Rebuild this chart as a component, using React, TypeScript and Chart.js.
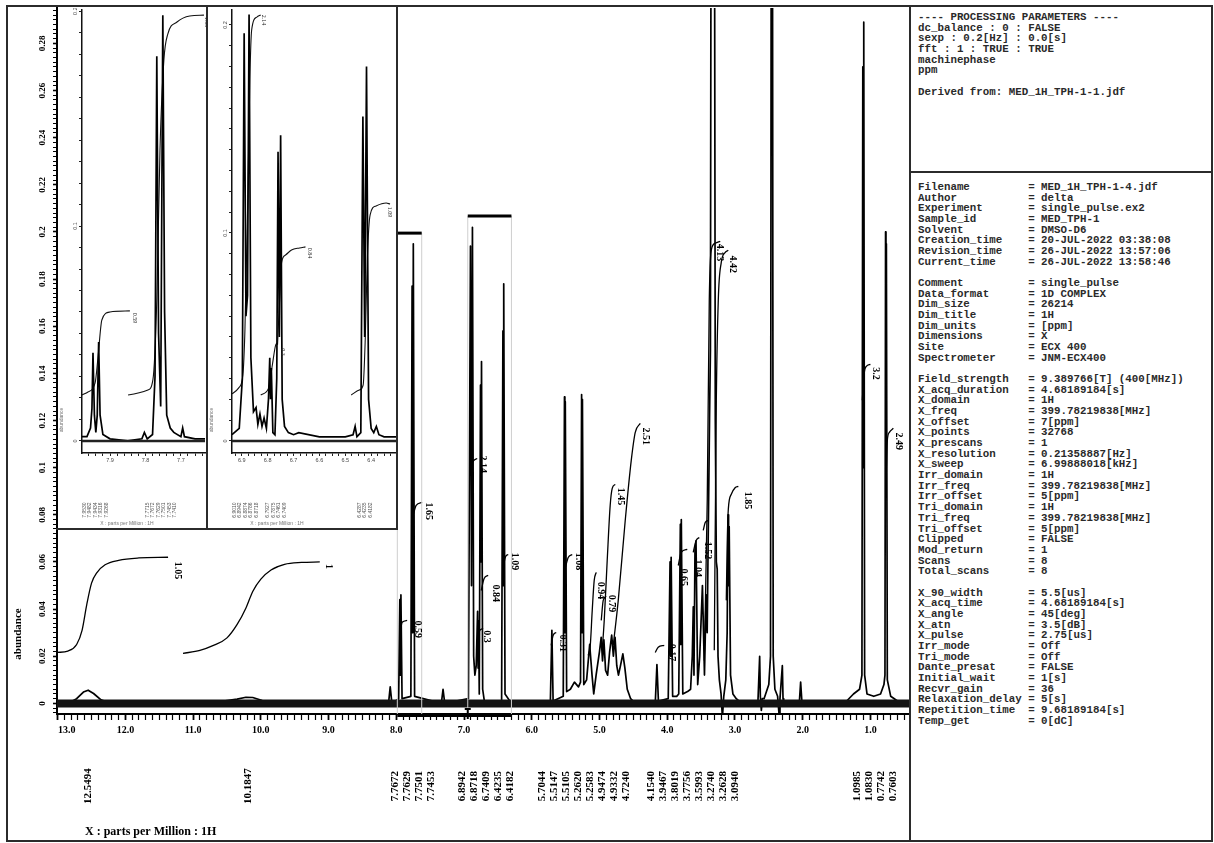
import React, { useEffect, useRef } from "react";
import { Chart, registerables } from "chart.js";

Chart.register(...registerables);

const SERIF = '"Liberation Serif", "Times New Roman", serif';
const MONO = '"Liberation Mono", "Courier New", monospace';
const SANS = '"Liberation Sans", Arial, sans-serif';

// ================= MAIN SPECTRUM =================
const ppmAxis = [0.43, 13.01];
const abundanceAxis = [-0.0045, 0.295];

const broadPpm = [13.01, 12.85, 12.72, 12.62, 12.55, 12.47, 12.36, 12.22, 10.85, 10.55, 10.35, 10.22, 10.12, 9.98, 9.78, 9.6, 8.2];
const broadAbundance = [0, 0, 0.002, 0.0048, 0.0056, 0.0042, 0.0015, 0, 0, 0.001, 0.0018, 0.0026, 0.0025, 0.0012, 0.0004, 0, 0];

const aromaticPpm = [8.2, 8.115, 8.09, 8.065, 7.965, 7.948, 7.94, 7.932, 7.915, 7.785, 7.767, 7.758, 7.749, 7.73, 7.335, 7.31, 7.285, 6.935, 6.905, 6.89, 6.876, 6.858, 6.84, 6.82, 6.8, 6.792, 6.785, 6.775, 6.757, 6.75, 6.742, 6.725, 6.7, 6.445, 6.426, 6.42, 6.414, 6.395, 6.3];
const aromaticAbundance = [0, 0, 0.007, 0, 0.002, 0.044, 0.012, 0.046, 0.002, 0.003, 0.177, 0.03, 0.195, 0.003, 0, 0.006, 0, 0.002, 0.194, 0.05, 0.202, 0.02, 0.012, 0.016, 0.039, 0.015, 0.035, 0.004, 0.135, 0.06, 0.145, 0.006, 0.001, 0.001, 0.158, 0.05, 0.178, 0.004, 0];

const midPpm = [6.3, 5.725, 5.703, 5.685, 5.535, 5.517, 5.511, 5.505, 5.485, 5.43, 5.37, 5.31, 5.28, 5.264, 5.258, 5.252, 5.232, 5.19, 5.145, 5.11, 5.085, 5.05, 5.0, 4.975, 4.955, 4.935, 4.91, 4.88, 4.85, 4.82, 4.795, 4.77, 4.745, 4.72, 4.69, 4.655, 4.625, 4.59, 4.54, 4.47];
const midAbundance = [0, 0.001, 0.031, 0.001, 0.003, 0.13, 0.03, 0.128, 0.005, 0.006, 0.009, 0.007, 0.009, 0.131, 0.03, 0.129, 0.008, 0.01, 0.025, 0.012, 0.004, 0.012, 0.022, 0.028, 0.018, 0.027, 0.014, 0.012, 0.022, 0.029, 0.02, 0.028, 0.016, 0.012, 0.016, 0.021, 0.015, 0.006, 0.002, 0];

const aliphaticPpm = [4.47, 4.175, 4.152, 4.13, 3.985, 3.958, 3.95, 3.942, 3.92, 3.86, 3.83, 3.806, 3.8, 3.792, 3.77, 3.7, 3.655, 3.63, 3.615, 3.605, 3.59, 3.575, 3.55, 3.52, 3.48, 3.45, 3.425, 3.41, 3.395, 3.375, 3.362, 3.35, 3.305, 3.29, 3.275, 3.262, 3.25, 3.23, 3.205, 3.185, 3.165, 3.135, 3.115, 3.102, 3.094, 3.085, 3.065, 3.03, 2.98, 2.9, 2.66, 2.635, 2.625, 2.61, 2.595, 2.57, 2.5, 2.475, 2.462, 2.448, 2.435, 2.41, 2.37, 2.345, 2.335, 2.3, 2.29, 2.28, 2.05, 2.03, 2.01, 1.5];
const aliphaticAbundance = [0, 0.001, 0.0165, 0.001, 0.002, 0.06, 0.02, 0.062, 0.003, 0.003, 0.004, 0.076, 0.025, 0.078, 0.004, 0.005, 0.006, 0.02, 0.041, 0.012, 0.065, 0.069, 0.008, 0.02, 0.05, 0.012, 0.046, 0.03, 0.07, 0.121, 0.15, 0.4, 0.4, 0.12, 0.06, 0.057, 0.02, 0.01, 0.004, -0.006, 0.003, 0.01, 0.03, 0.08, 0.05, 0.075, 0.012, 0.004, 0.002, 0, 0.001, 0.02, 0.003, -0.003, 0.002, 0.002, 0.008, 0.02, 0.4, 0.4, 0.02, 0.006, 0.003, -0.006, 0.002, 0.016, 0.002, 0.001, 0, 0.009, 0, 0];

const methylPpm = [1.5, 1.35, 1.25, 1.16, 1.125, 1.112, 1.105, 1.098, 1.085, 1.05, 0.95, 0.85, 0.8, 0.785, 0.776, 0.77, 0.764, 0.75, 0.7, 0.6, 0.43];
const methylAbundance = [0, 0.001, 0.004, 0.006, 0.012, 0.27, 0.1, 0.289, 0.012, 0.004, 0.003, 0.004, 0.008, 0.012, 0.2, 0.1, 0.195, 0.01, 0.003, 0.001, 0];

const baselinePpm = [13.01, 0.43];
const baselineAbundance = [0, 0];

// integral curves (main)
const mainIntegralLabels = ["1.05", "1", "0.59", "1.65", "2.14", "0.3", "0.84", "1.09", "0.31", "1.08", "0.94", "0.79", "1.45", "2.51", "0.17", "0.65", "1.04", "1.52", "4.13", "4.42", "1.85", "3.2", "2.49"];
const mainIntegralPpm = [
  [13.01, 12.85, 12.72, 12.64, 12.57, 12.5, 12.42, 12.3, 12.1, 11.8, 11.37],
  [11.15, 10.9, 10.7, 10.5, 10.35, 10.22, 10.12, 10.0, 9.85, 9.65, 9.4, 9.13],
  [7.943, 7.914, 7.84],
  [7.752, 7.707, 7.619],
  [6.909, 6.865, 6.806],
  [6.806, 6.777, 6.718],
  [6.747, 6.703, 6.644],
  [6.422, 6.392, 6.348],
  [5.713, 5.684, 5.639],
  [5.506, 5.462, 5.403],
  [5.167, 5.137, 5.107, 5.078, 5.048],
  [4.974, 4.945, 4.9],
  [4.96, 4.93, 4.886, 4.842, 4.812, 4.768],
  [4.797, 4.723, 4.62, 4.531, 4.472, 4.398],
  [4.177, 4.133, 4.044],
  [3.837, 3.793, 3.704],
  [3.616, 3.571, 3.527],
  [3.468, 3.438, 3.394],
  [3.453, 3.409, 3.379, 3.35, 3.291, 3.217],
  [3.305, 3.275, 3.246, 3.202, 3.143, 3.098],
  [3.128, 3.113, 3.098, 3.054, 2.995, 2.95],
  [1.12, 1.09, 1.06, 1.0],
  [0.765, 0.75, 0.72, 0.661],
];
const mainIntegralAbundance = [
  [0.0216, 0.0222, 0.025, 0.031, 0.042, 0.051, 0.0555, 0.0588, 0.0607, 0.0617, 0.062],
  [0.0212, 0.0225, 0.0246, 0.0278, 0.0335, 0.0405, 0.0475, 0.0527, 0.0566, 0.059, 0.0598, 0.06],
  [0.0301, 0.0344, 0.0352],
  [0.0798, 0.084, 0.0853],
  [0.0989, 0.1027, 0.1039],
  [0.0267, 0.0305, 0.0318],
  [0.0479, 0.053, 0.0543],
  [0.0573, 0.0619, 0.0632],
  [0.0246, 0.0289, 0.0301],
  [0.0573, 0.0619, 0.0632],
  [0.0204, 0.0242, 0.0395, 0.0522, 0.0556],
  [0.0352, 0.0437, 0.0454],
  [0.0225, 0.0352, 0.0607, 0.084, 0.0912, 0.0929],
  [0.0246, 0.0437, 0.0776, 0.1031, 0.115, 0.1188],
  [0.0216, 0.0238, 0.0246],
  [0.0585, 0.0641, 0.0653],
  [0.0641, 0.0692, 0.0704],
  [0.0734, 0.0768, 0.0776],
  [0.0182, 0.0861, 0.171, 0.1922, 0.1952, 0.196],
  [0.0225, 0.1286, 0.171, 0.1871, 0.1913, 0.1922],
  [0.0437, 0.0692, 0.0823, 0.0887, 0.0916, 0.0921],
  [0.1286, 0.1404, 0.143, 0.1438],
  [0.0989, 0.1116, 0.115, 0.1167],
];
const mainIntegralLabelPpm = [11.237, 9.007, 7.692, 7.53, 6.732, 6.673, 6.54, 6.26, 5.55, 5.314, 4.99, 4.827, 4.694, 4.325, 3.94, 3.763, 3.557, 3.409, 3.232, 3.04, 2.818, 0.927, 0.588];
const mainIntegralLabelAbundance = [0.0564, 0.0581, 0.0314, 0.0815, 0.1014, 0.0284, 0.0467, 0.0602, 0.0255, 0.0602, 0.0479, 0.0424, 0.0878, 0.1133, 0.0216, 0.0535, 0.0573, 0.0649, 0.1913, 0.1863, 0.0861, 0.14, 0.1112];

// peak pick labels below the axis
const mainPeakLabelGroups = [
  ["12.5494"],
  ["10.1847"],
  ["7.7672", "7.7629", "7.7501", "7.7453"],
  ["6.8942", "6.8718", "6.7409", "6.4235", "6.4182"],
  ["5.7044", "5.5147", "5.5105", "5.2620", "5.2583", "4.9474", "4.9332", "4.7240"],
  ["4.1540", "3.9467", "3.8019", "3.7756", "3.5993", "3.2740", "3.2628", "3.0940"],
  ["1.0985", "1.0830", "0.7742", "0.7603"],
];

// expanded-region markers
const zoomBarPpm = [[7.985, 7.625], [6.945, 6.3]];
const zoomBarAbundance = [0.1995, 0.2068];

// ================= INSET 1 (7.98 - 7.63 ppm) =================
const inset1Axis = { ppm: [7.632, 7.979], abundance: [-0.0056, 0.2005] };
const inset1Ppm = [7.979, 7.965, 7.955, 7.951, 7.948, 7.944, 7.94, 7.936, 7.932, 7.928, 7.92, 7.9, 7.85, 7.81, 7.803, 7.795, 7.78, 7.773, 7.768, 7.763, 7.757, 7.751, 7.746, 7.74, 7.73, 7.72, 7.7, 7.695, 7.69, 7.66, 7.632];
const inset1Abundance = [0.002, 0.002, 0.006, 0.015, 0.041, 0.012, 0.004, 0.012, 0.046, 0.012, 0.003, 0.001, 0, 0.001, 0.004, 0.001, 0.003, 0.03, 0.179, 0.05, 0.016, 0.198, 0.06, 0.012, 0.006, 0.004, 0.002, 0.006, 0.002, 0.001, 0.001];
const inset1IntegralLabels = ["0.59", "1.65"];
const inset1IntegralPpm = [
  [7.979, 7.962, 7.942, 7.934, 7.923, 7.9, 7.844],
  [7.849, 7.793, 7.779, 7.768, 7.759, 7.748, 7.737, 7.711, 7.675, 7.635],
];
const inset1IntegralAbundance = [
  [0.0214, 0.0228, 0.027, 0.0386, 0.0563, 0.06, 0.0605],
  [0.0214, 0.0237, 0.0284, 0.0656, 0.1353, 0.1772, 0.1893, 0.1949, 0.1977, 0.1981],
];
const inset1IntegralLabelPpm = [7.832, 7.627];
const inset1IntegralLabelAbundance = [0.0572, 0.1949];
const inset1PeakLabels = [
  ["7.9530", "7.9482", "7.9434", "7.9316", "7.9268"],
  ["7.7715", "7.7672", "7.7629", "7.7501", "7.7453", "7.7410"],
];

// ================= INSET 2 (6.94 - 6.30 ppm) =================
const inset2Axis = { ppm: [6.304, 6.938], abundance: [-0.0058, 0.2072] };
const inset2Ppm = [6.938, 6.91, 6.898, 6.891, 6.884, 6.878, 6.872, 6.865, 6.855, 6.845, 6.838, 6.83, 6.822, 6.814, 6.805, 6.797, 6.792, 6.789, 6.786, 6.78, 6.772, 6.765, 6.76, 6.755, 6.75, 6.744, 6.735, 6.72, 6.7, 6.68, 6.6, 6.5, 6.47, 6.462, 6.455, 6.44, 6.432, 6.425, 6.418, 6.41, 6.4, 6.39, 6.38, 6.37, 6.35, 6.304];
const inset2Abundance = [0.003, 0.006, 0.03, 0.196, 0.06, 0.07, 0.205, 0.04, 0.014, 0.016, 0.008, 0.013, 0.007, 0.011, 0.006, 0.02, 0.04, 0.02, 0.035, 0.004, 0.003, 0.03, 0.139, 0.05, 0.147, 0.02, 0.007, 0.004, 0.003, 0.004, 0.002, 0.002, 0.003, 0.007, 0.002, 0.004, 0.156, 0.05, 0.18, 0.02, 0.006, 0.004, 0.007, 0.003, 0.002, 0.002];
const inset2IntegralLabels = ["2.14", "0.3", "0.84", "1.09"];
const inset2IntegralPpm = [
  [6.938, 6.912, 6.896, 6.888, 6.877, 6.869, 6.862, 6.842, 6.827],
  [6.827, 6.796, 6.782, 6.769, 6.762],
  [6.762, 6.754, 6.746, 6.731, 6.708, 6.677, 6.654],
  [6.477, 6.446, 6.431, 6.423, 6.415, 6.404, 6.381, 6.342, 6.327],
];
const inset2IntegralAbundance = [
  [0.0226, 0.0255, 0.0317, 0.0534, 0.1159, 0.1736, 0.1976, 0.2038, 0.2048],
  [0.0221, 0.0255, 0.0365, 0.0462, 0.0471],
  [0.0462, 0.0678, 0.086, 0.0894, 0.0918, 0.0928, 0.0933],
  [0.0221, 0.0245, 0.0269, 0.0486, 0.087, 0.1087, 0.113, 0.1144, 0.1139],
];
const inset2IntegralLabelPpm = [6.815, 6.742, 6.638, 6.327];
const inset2IntegralLabelAbundance = [0.2024, 0.0428, 0.0904, 0.1101];
const inset2PeakLabels = [
  ["6.9010", "6.8942", "6.8874", "6.8786", "6.8718"],
  ["6.7927", "6.7875", "6.7461", "6.7409"],
  ["6.4287", "6.4235", "6.4182"],
];

// ================= PARAMETER TEXT =================
const processingLines = [
  "---- PROCESSING PARAMETERS ----",
  "dc_balance : 0 : FALSE",
  "sexp : 0.2[Hz] : 0.0[s]",
  "fft : 1 : TRUE : TRUE",
  "machinephase",
  "ppm",
  "",
  "Derived from: MED_1H_TPH-1-1.jdf",
];
const paramNames = ["Filename", "Author", "Experiment", "Sample_id", "Solvent", "Creation_time", "Revision_time", "Current_time", "", "Comment", "Data_format", "Dim_size", "Dim_title", "Dim_units", "Dimensions", "Site", "Spectrometer", "", "Field_strength", "X_acq_duration", "X_domain", "X_freq", "X_offset", "X_points", "X_prescans", "X_resolution", "X_sweep", "Irr_domain", "Irr_freq", "Irr_offset", "Tri_domain", "Tri_freq", "Tri_offset", "Clipped", "Mod_return", "Scans", "Total_scans", "", "X_90_width", "X_acq_time", "X_angle", "X_atn", "X_pulse", "Irr_mode", "Tri_mode", "Dante_presat", "Initial_wait", "Recvr_gain", "Relaxation_delay", "Repetition_time", "Temp_get"];
const paramValues = ["MED_1H_TPH-1-4.jdf", "delta", "single_pulse.ex2", "MED_TPH-1", "DMSO-D6", "20-JUL-2022 03:38:08", "26-JUL-2022 13:57:06", "26-JUL-2022 13:58:46", "", "single_pulse", "1D COMPLEX", "26214", "1H", "[ppm]", "X", "ECX 400", "JNM-ECX400", "", "9.389766[T] (400[MHz])", "4.68189184[s]", "1H", "399.78219838[MHz]", "7[ppm]", "32768", "1", "0.21358887[Hz]", "6.99888018[kHz]", "1H", "399.78219838[MHz]", "5[ppm]", "1H", "399.78219838[MHz]", "5[ppm]", "FALSE", "1", "8", "8", "", "5.5[us]", "4.68189184[s]", "45[deg]", "3.5[dB]", "2.75[us]", "Off", "Off", "FALSE", "1[s]", "36", "5[s]", "9.68189184[s]", "0[dC]"];

// ================= helpers =================
const toPoints = (xs: number[], ys: number[]) => xs.map((x, i) => ({ x, y: ys[i] }));
const isMultiple = (v: number, step: number) => Math.abs(v / step - Math.round(v / step)) < 1e-6;
const mean = (arr: string[]) => arr.reduce((s, t) => s + parseFloat(t), 0) / arr.length;

function drawRotated(ctx: any, text: string, x: number, y: number, angle: number) {
  ctx.save();
  ctx.translate(x, y);
  ctx.rotate(angle);
  ctx.fillText(text, 0, 0);
  ctx.restore();
}

// ================= MAIN CHART =================
function MainSpectrum() {
  const ref = useRef<HTMLCanvasElement>(null);
  useEffect(() => {
    const spectrumPpm = [...broadPpm, ...aromaticPpm, ...midPpm, ...aliphaticPpm, ...methylPpm];
    const spectrumAbundance = [...broadAbundance, ...aromaticAbundance, ...midAbundance, ...aliphaticAbundance, ...methylAbundance];

    const datasets: any[] = [
      { data: toPoints(baselinePpm, baselineAbundance), borderColor: "#141414", borderWidth: 8, pointRadius: 0 },
      { data: toPoints(spectrumPpm, spectrumAbundance), borderColor: "#000", borderWidth: 1.7, pointRadius: 0, tension: 0 },
      ...mainIntegralPpm.map((p, i) => ({
        data: toPoints(p, mainIntegralAbundance[i]),
        borderColor: "#000",
        borderWidth: 1.3,
        pointRadius: 0,
        cubicInterpolationMode: "monotone",
      })),
    ];

    const overlay = {
      id: "mainOverlay",
      afterDraw(chart: any) {
        const { ctx, chartArea: a } = chart;
        const xs = chart.scales.x;
        const ys = chart.scales.y;
        ctx.save();
        ctx.fillStyle = "#000";
        ctx.strokeStyle = "#000";
        ctx.textAlign = "center";
        ctx.textBaseline = "middle";

        // y tick labels (rotated)
        ctx.font = `bold 9px ${SERIF}`;
        ys.ticks.forEach((t: any) => {
          if (isMultiple(t.value, 0.02)) {
            drawRotated(ctx, String(+t.value.toFixed(2)), a.left - 14, ys.getPixelForValue(t.value), -Math.PI / 2);
          }
        });

        // x tick labels
        ctx.font = `bold 10px ${SERIF}`;
        xs.ticks.forEach((t: any) => {
          if (isMultiple(t.value, 1)) {
            const label = t.value.toFixed(1);
            const w = ctx.measureText(label).width;
            const px = Math.max(xs.getPixelForValue(t.value), a.left + w / 2 + 1);
            ctx.fillText(label, px, a.bottom + 16);
          }
        });

        // expanded-region bars
        zoomBarPpm.forEach((r, i) => {
          const x1 = xs.getPixelForValue(r[0]);
          const x2 = xs.getPixelForValue(r[1]);
          const yy = ys.getPixelForValue(zoomBarAbundance[i]);
          ctx.strokeStyle = "#cfcfcf";
          ctx.lineWidth = 1;
          ctx.beginPath();
          ctx.moveTo(x1, yy); ctx.lineTo(x1, a.bottom);
          ctx.moveTo(x2, yy); ctx.lineTo(x2, a.bottom);
          ctx.stroke();
          ctx.strokeStyle = "#000";
          ctx.lineWidth = 3;
          ctx.beginPath();
          ctx.moveTo(x1, yy); ctx.lineTo(x2, yy);
          ctx.stroke();
        });
        // highlighted axis segment + marker
        {
          const x1 = xs.getPixelForValue(zoomBarPpm[0][0]);
          const x2 = xs.getPixelForValue(zoomBarPpm[1][1]);
          ctx.strokeStyle = "#000";
          ctx.lineWidth = 2;
          ctx.beginPath();
          ctx.moveTo(x1, a.bottom + 2); ctx.lineTo(x2, a.bottom + 2);
          ctx.stroke();
          const xm = xs.getPixelForValue(zoomBarPpm[1][0]);
          ctx.beginPath();
          ctx.moveTo(xm, a.bottom - 5); ctx.lineTo(xm, a.bottom + 5);
          ctx.moveTo(xm - 3, a.bottom - 5); ctx.lineTo(xm + 3, a.bottom - 5);
          ctx.stroke();
        }

        // integral labels
        ctx.fillStyle = "#000";
        ctx.font = `bold 10px ${SERIF}`;
        mainIntegralLabels.forEach((lab, i) => {
          drawRotated(ctx, lab, xs.getPixelForValue(mainIntegralLabelPpm[i]), ys.getPixelForValue(mainIntegralLabelAbundance[i]), Math.PI / 2);
        });

        // peak labels
        ctx.font = `bold 11px ${SERIF}`;
        mainPeakLabelGroups.forEach((g) => {
          const cx = xs.getPixelForValue(mean(g));
          g.forEach((lab, k) => {
            drawRotated(ctx, lab, cx + (k - (g.length - 1) / 2) * 12, 779, -Math.PI / 2);
          });
        });

        // titles
        ctx.font = `bold 11px ${SERIF}`;
        drawRotated(ctx, "abundance", 10, 627, -Math.PI / 2);
        ctx.font = `bold 12px ${SERIF}`;
        ctx.textAlign = "left";
        ctx.fillText("X : parts per Million : 1H", 77, 825);
        ctx.restore();
      },
    };

    const chart = new Chart(ref.current as HTMLCanvasElement, {
      type: "line",
      data: { datasets },
      options: {
        animation: false,
        responsive: false,
        maintainAspectRatio: false,
        events: [],
        layout: { padding: { top: 1, right: 1, left: 0, bottom: 0 } },
        plugins: { legend: { display: false }, tooltip: { enabled: false } },
        elements: { point: { radius: 0 }, line: { borderJoinStyle: "round" } },
        scales: {
          x: {
            type: "linear",
            reverse: true,
            min: ppmAxis[0],
            max: ppmAxis[1],
            ticks: { display: false, stepSize: 0.1, includeBounds: false },
            grid: {
              drawOnChartArea: false,
              drawTicks: true,
              tickLength: 6,
              tickColor: "#000",
              tickWidth: (c: any) => (c.tick && isMultiple(c.tick.value, 1) ? 1.8 : 1.2),
            },
            border: { display: true, color: "#000", width: 2 },
            afterFit: (s: any) => { s.height = 127; },
          },
          y: {
            type: "linear",
            min: abundanceAxis[0],
            max: abundanceAxis[1],
            ticks: { display: false, stepSize: 0.002, includeBounds: false },
            grid: {
              drawOnChartArea: false,
              drawTicks: true,
              tickLength: 4,
              tickColor: "#000",
              tickWidth: (c: any) => (c.tick && isMultiple(c.tick.value, 0.02) ? 1.6 : 1),
            },
            border: { display: true, color: "#000", width: 2 },
            afterFit: (s: any) => { s.width = 49; },
          },
        },
      } as any,
      plugins: [overlay],
    });
    return () => chart.destroy();
  }, []);
  return <canvas ref={ref} width={902} height={834} style={{ position: "absolute", left: 8, top: 7, width: 902, height: 834 }} />;
}

// ================= INSET CHART =================
function SpectrumInset(props: any) {
  const ref = useRef<HTMLCanvasElement>(null);
  useEffect(() => {
    const p = props;
    const datasets: any[] = [
      { data: toPoints([p.axis.ppm[1], p.axis.ppm[0]], [0, 0]), borderColor: "#222", borderWidth: 2.5, pointRadius: 0 },
      { data: toPoints(p.ppm, p.abundance), borderColor: "#000", borderWidth: 1.7, pointRadius: 0 },
      ...p.integralPpm.map((xs: number[], i: number) => ({
        data: toPoints(xs, p.integralAbundance[i]),
        borderColor: "#111",
        borderWidth: 1.1,
        pointRadius: 0,
        cubicInterpolationMode: "monotone",
        clip: false,
      })),
    ];
    const overlay = {
      id: "insetOverlay",
      afterDraw(chart: any) {
        const { ctx, chartArea: a } = chart;
        const xs = chart.scales.x;
        const ys = chart.scales.y;
        ctx.save();
        ctx.fillStyle = "#444";
        ctx.textAlign = "center";
        ctx.textBaseline = "middle";
        ctx.font = `5.5px ${SANS}`;
        xs.ticks.forEach((t: any) => {
          if (isMultiple(t.value, 0.1)) ctx.fillText(t.value.toFixed(1), xs.getPixelForValue(t.value), a.bottom + 7);
        });
        [0, 0.1, 0.2].forEach((v) => {
          if (v <= p.axis.abundance[1]) drawRotated(ctx, String(v), a.left - 7, ys.getPixelForValue(v), -Math.PI / 2);
        });
        ctx.fillStyle = "#777";
        ctx.font = `5px ${SANS}`;
        drawRotated(ctx, "abundance", 5, 412, -Math.PI / 2);
        ctx.fillText("X : parts per Million : 1H", 70, 516);
        ctx.fillStyle = "#555";
        p.peakLabels.forEach((g: string[]) => {
          const cx = xs.getPixelForValue(mean(g));
          g.forEach((lab, k) => drawRotated(ctx, lab, cx + (k - (g.length - 1) / 2) * 5.5, 502, -Math.PI / 2));
        });
        ctx.fillStyle = "#222";
        ctx.font = `6px ${SERIF}`;
        p.integralLabels.forEach((lab: string, i: number) => {
          drawRotated(ctx, lab, xs.getPixelForValue(p.integralLabelPpm[i]), ys.getPixelForValue(p.integralLabelAbundance[i]), Math.PI / 2);
        });
        ctx.restore();
      },
    };
    const chart = new Chart(ref.current as HTMLCanvasElement, {
      type: "line",
      data: { datasets },
      options: {
        animation: false,
        responsive: false,
        maintainAspectRatio: false,
        events: [],
        layout: { padding: { top: 2, right: p.padRight, left: 0, bottom: 0 } },
        plugins: { legend: { display: false }, tooltip: { enabled: false } },
        elements: { point: { radius: 0 } },
        scales: {
          x: {
            type: "linear",
            reverse: true,
            min: p.axis.ppm[0],
            max: p.axis.ppm[1],
            ticks: { display: false, stepSize: p.xStep, includeBounds: false },
            grid: { drawOnChartArea: false, drawTicks: true, tickLength: 3, tickColor: "#222", tickWidth: 1 },
            border: { display: true, color: "#111", width: 1.5 },
            afterFit: (s: any) => { s.height = 76; },
          },
          y: {
            type: "linear",
            min: p.axis.abundance[0],
            max: p.axis.abundance[1],
            ticks: { display: false, stepSize: 0.01, includeBounds: false },
            grid: { drawOnChartArea: false, drawTicks: true, tickLength: 3, tickColor: "#222", tickWidth: 1 },
            border: { display: true, color: "#111", width: 1.5 },
            afterFit: (s: any) => { s.width = 25; },
          },
        },
      } as any,
      plugins: [overlay],
    });
    return () => chart.destroy();
  }, []);
  return (
    <canvas
      ref={ref}
      width={props.width}
      height={props.height}
      style={{ position: "absolute", left: props.left, top: props.top, width: props.width, height: props.height }}
    />
  );
}

// ================= APP =================
function Line(props: { l: number; t: number; w: number; h: number }) {
  return <div style={{ position: "absolute", left: props.l, top: props.t, width: props.w, height: props.h, background: "#2b2b2b" }} />;
}

export default function App() {
  const paramText = paramNames
    .map((n, i) => (n ? n.padEnd(16, " ") + " = " + paramValues[i] : ""))
    .join("\n");
  const preStyle: any = {
    margin: 0,
    fontFamily: MONO,
    fontSize: "10.8px",
    fontWeight: "bold",
    lineHeight: "10.67px",
    color: "#2a2a2a",
    whiteSpace: "pre",
  };
  return (
    <div style={{ position: "absolute", left: 0, top: 0, width: 1214, height: 843, background: "#fff", overflow: "hidden" }}>
      <MainSpectrum />
      <SpectrumInset
        left={57}
        top={8}
        width={150}
        height={521}
        padRight={2}
        xStep={0.02}
        axis={inset1Axis}
        ppm={inset1Ppm}
        abundance={inset1Abundance}
        integralPpm={inset1IntegralPpm}
        integralAbundance={inset1IntegralAbundance}
        integralLabels={inset1IntegralLabels}
        integralLabelPpm={inset1IntegralLabelPpm}
        integralLabelAbundance={inset1IntegralLabelAbundance}
        peakLabels={inset1PeakLabels}
      />
      <SpectrumInset
        left={207}
        top={8}
        width={190}
        height={521}
        padRight={1}
        xStep={0.025}
        axis={inset2Axis}
        ppm={inset2Ppm}
        abundance={inset2Abundance}
        integralPpm={inset2IntegralPpm}
        integralAbundance={inset2IntegralAbundance}
        integralLabels={inset2IntegralLabels}
        integralLabelPpm={inset2IntegralLabelPpm}
        integralLabelAbundance={inset2IntegralLabelAbundance}
        peakLabels={inset2PeakLabels}
      />
      {/* frame */}
      <Line l={6} t={5} w={1207} h={2} />
      <Line l={6} t={840} w={1207} h={2} />
      <Line l={6} t={5} w={2} h={837} />
      <Line l={1211} t={5} w={2} h={837} />
      <Line l={909} t={5} w={2} h={837} />
      <Line l={909} t={171} w={304} h={2} />
      {/* inset frames */}
      <Line l={206} t={5} w={2} h={525} />
      <Line l={396} t={5} w={2} h={525} />
      <Line l={56} t={528} w={342} h={2} />
      {/* parameter panels */}
      <pre style={{ ...preStyle, position: "absolute", left: 918, top: 12 }}>{processingLines.join("\n")}</pre>
      <pre style={{ ...preStyle, position: "absolute", left: 918, top: 182 }}>{paramText}</pre>
    </div>
  );
}
